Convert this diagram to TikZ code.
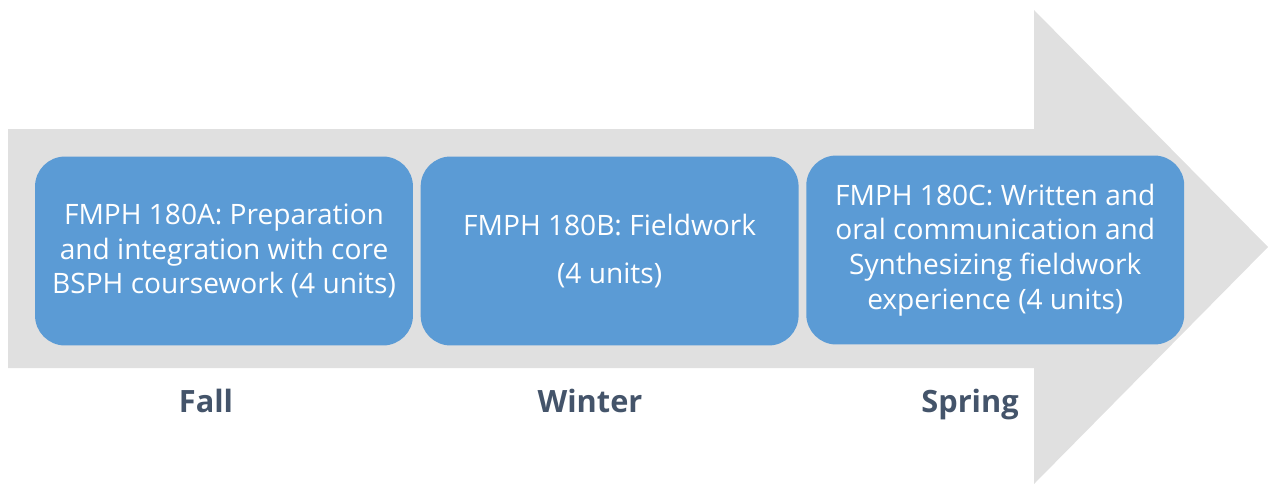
\documentclass[tikz,border=0pt]{standalone}
\usepackage{fontspec}
\setmainfont{Open Sans}
\usetikzlibrary{positioning}

\definecolor{arrowgray}{HTML}{E0E0E0}
\definecolor{boxblue}{HTML}{5B9BD5}
\definecolor{termtext}{HTML}{44546A}

\begin{document}
\begin{tikzpicture}[x=0.02cm, y=-0.02cm,
  course/.style={fill=boxblue, text=white, rounded corners=0.6cm,
    minimum width=7.56cm, minimum height=3.78cm, align=center,
    inner sep=0pt, font=\fontsize{16}{19.8}\selectfont},
  term/.style={text=termtext, anchor=base, font=\fontsize{17.5}{21}\selectfont\bfseries}]
\useasboundingbox (0,0) rectangle (1268,484);
% Big timeline arrow
\fill[arrowgray] (8,129) -- (1034,129) -- (1034,10) -- (1268,247)
  -- (1034,484) -- (1034,368) -- (8,368) -- cycle;

% Course boxes
\node[course] (A) at (224,251) {FMPH 180A: Preparation\\and integration with core\\BSPH coursework (4 units)};
\node[course] (B) [right=0.14cm of A] {FMPH 180B: Fieldwork\\[0.26cm](4 units)};
\node[course] (C) [right=0.14cm of B, yshift=0.02cm] {FMPH 180C: Written and\\oral communication and\\Synthesizing fieldwork\\experience (4 units)};

% Terms
\node[term] (fall) at (206,412) {Fall};
\node[term] (winter) at (590,412) {Winter};
\node[term] (spring) at (970,412) {Spring};
\end{tikzpicture}
\end{document}
